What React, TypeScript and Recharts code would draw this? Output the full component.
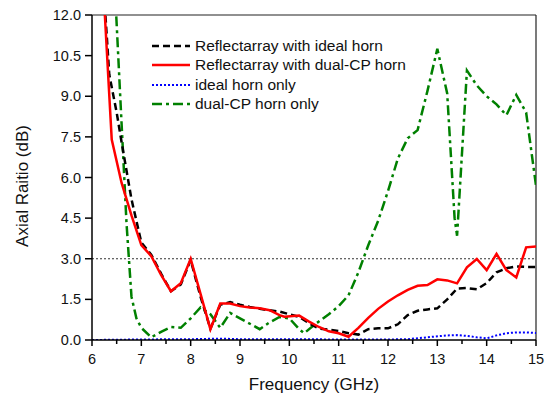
import { LineChart, Line, XAxis, YAxis, ReferenceLine, Legend } from "recharts";

const FONT = '"Liberation Sans", Arial, sans-serif';

const xTicks = [6, 6.5, 7, 7.5, 8, 8.5, 9, 9.5, 10, 10.5, 11, 11.5, 12, 12.5, 13, 13.5, 14, 14.5, 15];
const yTicks = [0, 1.5, 3, 4.5, 6, 7.5, 9, 10.5, 12];

// Reflectarray with ideal horn
const rfIdealFreq = [6.2, 6.35, 6.5, 6.6, 6.8, 7.0, 7.2, 7.4, 7.6, 7.8, 8.0, 8.2, 8.4, 8.6, 8.8, 9.0, 9.2, 9.4, 9.6, 9.8, 10.0, 10.2, 10.4, 10.6, 10.8, 11.0, 11.2, 11.4, 11.6, 11.8, 12.0, 12.2, 12.4, 12.6, 12.8, 13.0, 13.2, 13.4, 13.6, 13.8, 14.0, 14.2, 14.4, 14.6, 14.8, 15.0];
const rfIdealAR = [14.0, 9.8, 8.4, 7.3, 5.2, 3.6, 3.15, 2.45, 1.8, 2.05, 2.95, 1.6, 0.42, 1.3, 1.4, 1.3, 1.22, 1.15, 1.1, 1.05, 0.95, 0.85, 0.62, 0.42, 0.38, 0.33, 0.25, 0.2, 0.4, 0.43, 0.43, 0.58, 0.92, 1.08, 1.13, 1.17, 1.5, 1.9, 1.92, 1.87, 2.1, 2.5, 2.65, 2.72, 2.7, 2.7];

// Reflectarray with dual-CP horn
const rfDualFreq = [6.2, 6.4, 6.6, 6.8, 7.0, 7.2, 7.4, 7.6, 7.8, 8.0, 8.2, 8.4, 8.6, 8.8, 9.0, 9.2, 9.4, 9.6, 9.8, 9.9, 10.2, 10.4, 10.6, 10.8, 11.0, 11.2, 11.4, 11.6, 11.8, 12.0, 12.2, 12.4, 12.6, 12.8, 13.0, 13.2, 13.4, 13.6, 13.8, 14.0, 14.2, 14.4, 14.6, 14.8, 15.0];
const rfDualAR = [14.0, 7.4, 5.8, 4.6, 3.5, 3.1, 2.4, 1.8, 2.1, 3.0, 1.7, 0.4, 1.35, 1.35, 1.25, 1.2, 1.17, 1.1, 0.92, 0.86, 0.9, 0.68, 0.48, 0.32, 0.25, 0.12, 0.45, 0.82, 1.15, 1.42, 1.65, 1.85, 2.0, 2.03, 2.24, 2.2, 2.09, 2.68, 2.99, 2.58, 3.18, 2.58, 2.31, 3.42, 3.45];

// ideal horn only
const hornIdealFreq = [6.0, 7.0, 8.0, 8.6, 9.0, 10.0, 11.0, 12.0, 12.4, 12.8, 13.2, 13.4, 13.6, 13.8, 14.0, 14.2, 14.4, 14.6, 14.8, 15.0];
const hornIdealAR = [0.0, 0.02, 0.03, 0.05, 0.03, 0.03, 0.02, 0.02, 0.03, 0.1, 0.17, 0.18, 0.15, 0.1, 0.06, 0.17, 0.25, 0.28, 0.28, 0.26];

// dual-CP horn only
const hornDualFreq = [6.45, 6.7, 6.8, 6.9, 7.0, 7.2, 7.4, 7.6, 7.8, 8.0, 8.2, 8.4, 8.6, 8.8, 9.0, 9.2, 9.4, 9.6, 9.8, 10.0, 10.2, 10.3, 10.5, 10.8, 11.0, 11.2, 11.4, 11.6, 11.8, 12.0, 12.2, 12.4, 12.6, 12.8, 13.0, 13.2, 13.35, 13.4, 13.6, 13.8, 14.0, 14.2, 14.4, 14.6, 14.8, 15.0];
const hornDualAR = [13.5, 4.3, 1.6, 0.8, 0.45, 0.1, 0.3, 0.48, 0.45, 0.8, 1.2, 0.95, 0.45, 1.0, 0.8, 0.6, 0.4, 0.65, 0.85, 0.8, 0.4, 0.25, 0.55, 0.95, 1.25, 1.65, 2.5, 3.5, 4.4, 5.5, 6.7, 7.45, 7.75, 9.2, 10.75, 9.1, 4.5, 3.85, 9.95, 9.4, 9.0, 8.7, 8.3, 9.05, 8.4, 5.7];

const zip = (xs: number[], ys: number[]) => xs.map((f, i) => ({ f, ar: ys[i] }));

const series = [
  { name: "Reflectarray with ideal horn", data: zip(rfIdealFreq, rfIdealAR), color: "#000000", dash: "7 4", width: 2.5 },
  { name: "Reflectarray with dual-CP horn", data: zip(rfDualFreq, rfDualAR), color: "#ff0000", dash: undefined, width: 2.5 },
  { name: "ideal horn only", data: zip(hornIdealFreq, hornIdealAR), color: "#0000ff", dash: "2 2", width: 2 },
  { name: "dual-CP horn only", data: zip(hornDualFreq, hornDualAR), color: "#008000", dash: "10 4 3 4", width: 2.5 },
];

function FreqTick({ x, y, payload }: any) {
  const major = Number.isInteger(payload.value);
  return (
    <g>
      <line x1={x} x2={x} y1={y} y2={y + (major ? 6 : 4)} stroke="#000" strokeWidth={1.5} />
      {major && (
        <text x={x} y={y + 24} textAnchor="middle" fontSize={14.5} fontFamily={FONT} fill="#111">
          {payload.value}
        </text>
      )}
    </g>
  );
}

function ARTick({ x, y, payload }: any) {
  return (
    <g>
      <line x1={x - 7} x2={x} y1={y} y2={y} stroke="#000" strokeWidth={1.5} />
      <text x={x - 11} y={y + 5} textAnchor="end" fontSize={14.5} fontFamily={FONT} fill="#111">
        {payload.value.toFixed(1)}
      </text>
    </g>
  );
}

// y-axis title, centred a little below the plot middle as in the original
function ARTitle() {
  return (
    <text x={28} y={186} transform="rotate(-90 28 186)" textAnchor="middle" fontSize={17} fontFamily={FONT} fill="#111">
      Axial Raitio (dB)
    </text>
  );
}

function LegendBox() {
  return (
    <div style={{ fontFamily: FONT, fontSize: 15.5, color: "#111" }}>
      {series.map((s) => (
        <div key={s.name} style={{ display: "flex", alignItems: "center", height: 19.5, whiteSpace: "nowrap" }}>
          <svg width={40} height={10} style={{ marginRight: 4 }}>
            <line x1={1} x2={39} y1={5} y2={5} stroke={s.color} strokeWidth={s.width} strokeDasharray={s.dash} />
          </svg>
          <span>{s.name}</span>
        </div>
      ))}
    </div>
  );
}

export default function App() {
  const drawOrder = [3, 2, 0, 1];
  return (
    <div style={{ position: "fixed", left: 0, top: 0, background: "#fff" }}>
      <LineChart width={549} height={395} margin={{ top: 15, right: 13, left: 0, bottom: 0 }}>
        <XAxis
          dataKey="f"
          type="number"
          domain={[6, 15]}
          ticks={xTicks}
          interval={0}
          tick={<FreqTick />}
          tickLine={false}
          tickSize={0}
          tickMargin={0}
          height={55}
          axisLine={{ stroke: "#000", strokeWidth: 1.5 }}
          allowDataOverflow
          label={{ value: "Frequency (GHz)", position: "insideBottom", offset: 5, fontSize: 17, fontFamily: FONT, fill: "#111" }}
        />
        <YAxis
          dataKey="ar"
          type="number"
          domain={[0, 12]}
          ticks={yTicks}
          interval={0}
          tick={<ARTick />}
          tickLine={false}
          tickSize={0}
          tickMargin={0}
          width={92}
          axisLine={{ stroke: "#000", strokeWidth: 1.5 }}
          allowDataOverflow
          label={<ARTitle />}
        />
        <ReferenceLine y={12} stroke="#222" strokeWidth={1.2} />
        <ReferenceLine x={15} stroke="#222" strokeWidth={1.2} />
        <ReferenceLine y={3} stroke="#333" strokeWidth={1} strokeDasharray="2 2" />
        {drawOrder.map((i) => {
          const s = series[i];
          return (
            <Line
              key={s.name}
              data={s.data}
              dataKey="ar"
              name={s.name}
              type="linear"
              stroke={s.color}
              strokeWidth={s.width}
              strokeDasharray={s.dash}
              dot={false}
              activeDot={false}
              isAnimationActive={false}
            />
          );
        })}
        <Legend
          layout="vertical"
          align="center"
          verticalAlign="middle"
          content={<LegendBox />}
          wrapperStyle={{ position: "absolute", top: 36, left: 151, width: 280 }}
        />
      </LineChart>
    </div>
  );
}
